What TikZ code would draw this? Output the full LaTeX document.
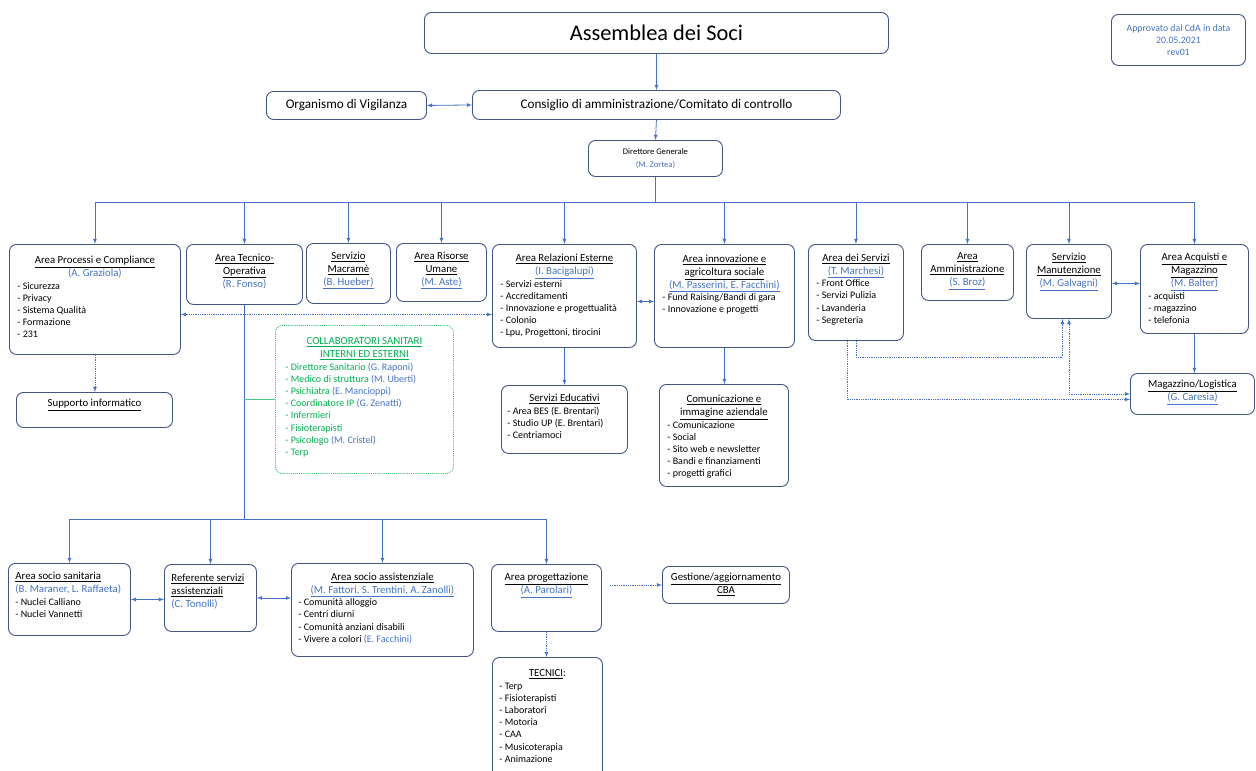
\documentclass[tikz,border=0pt]{standalone}
\usepackage{fontspec}
\setmainfont{Carlito}

\definecolor{boxline}{RGB}{65,86,135}
\definecolor{linkblue}{RGB}{68,114,196}
\definecolor{nameblue}{RGB}{68,114,196}
\definecolor{collabgreen}{RGB}{0,176,80}

\newcommand{\hfont}{\fontsize{10.8}{13}\selectfont}
\newcommand{\ifont}{\fontsize{10}{12.2}\selectfont}
\newcommand{\who}[1]{{\color{nameblue}#1}}
\newcommand{\whou}[1]{{\color{nameblue}\underline{#1}}}
\newcommand{\unithead}[1]{{\centering\hfont #1\par}}
\newcommand{\unitheadl}[1]{{\raggedright\leftskip=7pt\hfont #1\par}}
\newcommand{\unititems}[2][8pt]{{\raggedright\leftskip=#1\ifont #2\par}}
% width, height, first baseline, text
\newcommand{\boxtxt}[4]{\begin{minipage}[t][#2pt][t]{#1pt}\rule{0pt}{#3pt}#4\end{minipage}}

\begin{document}
\begin{tikzpicture}[x=1pt, y=-1pt,
    orgbox/.style={draw=boxline, line width=0.9pt, rounded corners=7pt, inner sep=0pt, anchor=north west},
    collabbox/.style={orgbox, draw=collabgreen!80, densely dotted},
    link/.style={draw=linkblue, line width=0.8pt},
    arr/.style={link, -latex},
    darr/.style={link, latex-latex},
    dotlink/.style={link, densely dotted},
    greenlink/.style={draw=collabgreen!70, line width=0.8pt}]
    \useasboundingbox (0,0) rectangle (1256,771);

    % top of the chart
    \node[orgbox, minimum width=464pt, minimum height=41pt, font=\fontsize{22.4}{26}\selectfont] (assemblea) at (424,12) {Assemblea dei Soci};
    \node[orgbox, minimum width=134pt, minimum height=51pt, align=center, text=nameblue, font=\fontsize{9.8}{12}\selectfont] (approvato) at (1111,14) {Approvato dal CdA in data\\20.05.2021\\rev01};
    \node[orgbox, minimum width=160pt, minimum height=28pt, font=\fontsize{13.2}{15}\selectfont] (odv) at (266,91) {Organismo di Vigilanza};
    \node[orgbox, minimum width=368pt, minimum height=29pt, font=\fontsize{13.2}{15}\selectfont] (cda) at (472,90) {Consiglio di amministrazione/Comitato di controllo};
    \node[orgbox, minimum width=134pt, minimum height=36pt, align=center, font=\fontsize{8.6}{12.5}\selectfont] (dg) at (588,140) {Direttore Generale\\\who{(M. Zortea)}};

    % areas under the Direttore Generale
    \node[orgbox] (proc) at (9,244) {\boxtxt{171}{110}{19.5}{%
        \unithead{\underline{Area Processi e Compliance}\\\who{(A. Graziola)}}%
        \unititems{- Sicurezza\\- Privacy\\- Sistema Qualità\\- Formazione\\- 231}}};
    \node[orgbox] (tecop) at (186,244) {\boxtxt{116}{60}{17}{%
        \unithead{\underline{Area Tecnico-}\\\underline{Operativa}\\\who{(R. Fonso)}}}};
    \node[orgbox] (macr) at (306,243) {\boxtxt{84}{60}{16}{%
        \unithead{\underline{Servizio}\\\underline{Macramè}\\\whou{(B. Hueber)}}}};
    \node[orgbox] (risum) at (396,243) {\boxtxt{90}{58}{16}{%
        \unithead{\underline{Area Risorse}\\\underline{Umane}\\\whou{(M. Aste)}}}};
    \node[orgbox] (relest) at (492,244) {\boxtxt{144}{103}{17.5}{%
        \unithead{\underline{Area Relazioni Esterne}\\\whou{(I. Bacigalupi)}}%
        \unititems{- Servizi esterni\\- Accreditamenti\\- Innovazione e progettualità\\- Colonio\\- Lpu, Progettoni, tirocini}}};
    \node[orgbox] (innov) at (654,244) {\boxtxt{140}{103}{18}{%
        \unithead{\underline{Area innovazione e}\\\underline{agricoltura sociale}\\\whou{(M. Passerini, E. Facchini)}}%
        \unititems{- Fund Raising/Bandi di gara\\- Innovazione e progetti}}};
    \node[orgbox] (serv) at (808,244) {\boxtxt{95}{96}{17}{%
        \unithead{\underline{Area dei Servizi}\\\whou{(T. Marchesi)}}%
        \unititems{- Front Office\\- Servizi Pulizia\\- Lavanderia\\- Segreteria}}};
    \node[orgbox] (ammin) at (921,244) {\boxtxt{92}{56}{15.5}{%
        \unithead{\underline{Area}\\\underline{Amministrazione}\\\whou{(S. Broz)}}}};
    \node[orgbox] (manut) at (1026,244) {\boxtxt{85}{74}{16}{%
        \unithead{\underline{Servizio}\\\underline{Manutenzione}\\\whou{(M. Galvagni)}}}};
    \node[orgbox] (acq) at (1140,244) {\boxtxt{108}{89}{16.5}{%
        \unithead{\underline{Area Acquisti e}\\\underline{Magazzino}\\\whou{(M. Balter)}}%
        \unititems{- acquisti\\- magazzino\\- telefonia}}};

    % second row
    \node[orgbox] (supp) at (16,392) {\boxtxt{156}{35}{14.5}{%
        \unithead{\underline{Supporto informatico}}}};
    \node[collabbox] (collab) at (275,325) {\boxtxt{178}{148}{19.5}{%
        \unithead{\color{collabgreen}\underline{COLLABORATORI SANITARI}\\\underline{INTERNI ED ESTERNI}}%
        \unititems[10pt]{\color{collabgreen}- Direttore Sanitario \who{(G. Raponi)}\\- Medico di struttura \who{(M. Uberti)}\\- Psichiatra \who{(E. Mancioppi)}\\- Coordinatore IP \who{(G. Zenatti)}\\- Infermieri\\- Fisioterapisti\\- Psicologo \who{(M. Cristel)}\\- Terp}}};
    \node[orgbox] (educ) at (501,385) {\boxtxt{126}{68}{16.5}{%
        \unithead{\underline{Servizi Educativi}}%
        \unititems[6pt]{- Area BES (E. Brentari)\\- Studio UP (E. Brentari)\\- Centriamoci}}};
    \node[orgbox] (comun) at (659,384) {\boxtxt{129}{102}{18.5}{%
        \unithead{\underline{Comunicazione e}\\\underline{immagine aziendale}}%
        \unititems{- Comunicazione\\- Social\\- Sito web e newsletter\\- Bandi e finanziamenti\\- progetti grafici}}};
    \node[orgbox] (magaz) at (1130,373) {\boxtxt{124}{41}{14.5}{%
        \unithead{\underline{Magazzino/Logistica}\\\whou{(G. Caresia)}}}};

    % areas under the Area Tecnico-Operativa
    \node[orgbox] (sociosan) at (8,563) {\boxtxt{122}{72}{16.5}{%
        \unitheadl{\underline{Area socio sanitaria}\\\who{(B. Maraner, L. Raffaeta)}}%
        \unititems[7pt]{- Nuclei Calliano\\- Nuclei Vannetti}}};
    \node[orgbox] (refer) at (164,564) {\boxtxt{92}{67}{17.5}{%
        \unitheadl{\underline{Referente servizi}\\\underline{assistenziali}\\\who{(C. Tonolli)}}}};
    \node[orgbox] (socioass) at (291,563) {\boxtxt{182}{93}{17}{%
        \unithead{\underline{Area socio assistenziale}\\\whou{(M. Fattori, S. Trentini, A. Zanolli)}}%
        \unititems[7pt]{- Comunità alloggio\\- Centri diurni\\- Comunità anziani disabili\\- Vivere a colori \who{(E. Facchini)}}}};
    \node[orgbox] (prog) at (491,564) {\boxtxt{110}{67}{16.5}{%
        \unithead{\underline{Area progettazione}\\\whou{(A. Parolari)}}}};
    \node[orgbox] (cba) at (662,566) {\boxtxt{127}{37}{14.5}{%
        \unithead{\underline{Gestione/aggiornamento}\\\underline{CBA}}}};
    \node[orgbox] (tecnici) at (492,657) {\boxtxt{110}{133}{19.5}{%
        \unithead{\underline{TECNICI}:}%
        \unititems[7pt]{- Terp\\- Fisioterapisti\\- Laboratori\\- Motoria\\- CAA\\- Musicoterapia\\- Animazione}}};

    % connectors
    \draw[arr] (assemblea.south) -- (cda.north);
    \draw[darr] (odv.east) -- (cda.west);
    \draw[arr] (cda.south) -- (dg.north);
    \coordinate (bus) at (0,202);
    \draw[link] (dg.south) -- (dg.south |- bus);
    \draw[link] (bus -| proc.north) -- (bus -| acq.north);
    \foreach \n in {proc,tecop,macr,risum,relest,innov,serv,ammin,manut,acq}
        \draw[arr] (bus -| \n.north) -- (\n.north);

    \draw[dotlink, latex-latex] ([yshift=-15pt]proc.east) -- ([yshift=-15pt]proc.east -| relest.west);
    \draw[darr] ([yshift=-5.5pt]relest.east) -- ([yshift=-5.5pt]relest.east -| innov.west);
    \draw[dotlink, -latex] (proc.south) -- (proc.south |- supp.north);
    \draw[arr] (relest.south) -- (relest.south |- educ.north);
    \draw[arr] (innov.south) -- (innov.south |- comun.north);
    \draw[darr] ([yshift=-2pt]manut.east) -- ([yshift=-2pt]manut.east -| acq.west);
    \draw[arr] (acq.south) -- (acq.south |- magaz.north);
    \draw[dotlink, -latex] (serv.south) -- ++(0,16) -| ([xshift=-6.5pt]manut.south);
    \draw[dotlink, -latex] ([xshift=-8.5pt]serv.south) |- ([yshift=-5.5pt]magaz.west);
    \draw[dotlink, latex-latex] (magaz.west) -| (manut.south);

    \coordinate (lowbus) at (0,519);
    \draw[link] (tecop.south) -- (tecop.south |- lowbus);
    \draw[greenlink] (collab.west) -- (collab.west -| tecop.south);
    \draw[link] (lowbus -| sociosan.north) -- (lowbus -| prog.north);
    \foreach \n in {sociosan,refer,socioass,prog}
        \draw[arr] (lowbus -| \n.north) -- (\n.north);
    \draw[darr] (sociosan.east) -- (sociosan.east -| refer.west);
    \draw[darr] (refer.east) -- (refer.east -| socioass.west);
    \draw[dotlink, -latex] ([xshift=8pt]prog.east |- cba.west) -- (cba.west);
    \draw[dotlink, -latex] (prog.south) -- (prog.south |- tecnici.north);
\end{tikzpicture}
\end{document}
